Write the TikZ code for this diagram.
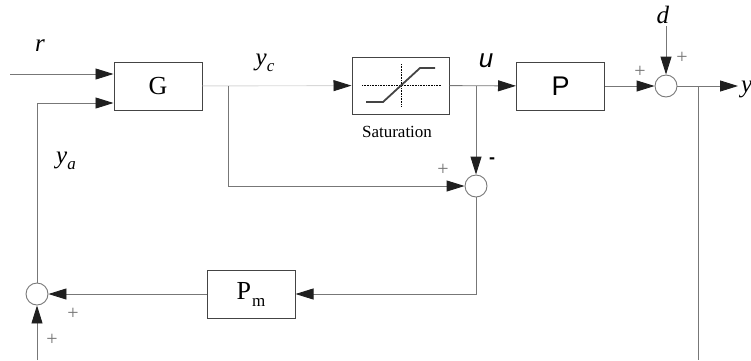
\documentclass[tikz,border=0pt]{standalone}
\usepackage{fontspec}
\setmainfont{Liberation Serif}
\setsansfont{Liberation Sans}
\usetikzlibrary{arrows.meta}
\definecolor{linegray}{HTML}{777777}
\definecolor{lightline}{HTML}{D8D8D8}
\definecolor{boxgray}{HTML}{444444}

\begin{document}
\begin{tikzpicture}[x=1pt,y=-1pt,
  blk/.style={draw=boxgray,line width=1pt,minimum width=88pt,minimum height=48pt,inner sep=0pt,font=\fontsize{26}{30}\selectfont},
  sum/.style={draw=linegray,circle,minimum size=22pt,inner sep=0pt,line width=0.9pt},
  wire/.style={draw=linegray,line width=0.9pt},
  sig/.style={wire,-{Triangle[length=18pt,width=11pt,color=black!88]}},
  lbl/.style={inner sep=0pt,font=\fontsize{25}{28}\selectfont},
  sgn/.style={inner sep=0pt,text=black!55,font=\fontsize{20}{22}\selectfont}]
\useasboundingbox (0,0) rectangle (751,360);
\node[blk] (G) at (158,86) {G};
\node[blk,minimum width=97pt,minimum height=57pt] (sat) at (400.5,85.5) {};
\node[blk,font=\sffamily\fontsize{27}{30}\selectfont] (P) at (560.5,86) {P};
\node[blk] (Pm) at (251,294) {P\hspace{1pt}\raisebox{-7pt}{\fontsize{17}{19}\selectfont m}};
\node[sum] (sd) at (666,86) {};
\node[sum] (su) at (476,186) {};
\node[sum] (sa) at (37,294) {};
\coordinate (rin) at (10,74);
\coordinate (ya) at (37,103);
\coordinate (yc) at (228,86);
\coordinate (ub) at (476,86);
\coordinate (yb) at (698,86);
\coordinate (yout) at (738,86);
\coordinate (din) at (666,26);
\coordinate (ain) at (37,360);
\draw[sig] (rin) -- (rin -| G.west);
\draw[sig] (sa) -- (ya) -- (ya -| G.west);
\draw[sig,draw=lightline] (G) -- (sat);
\draw[sig] (yc) |- (su);
\draw[sig] (sat) -- (P);
\draw[sig] (ub) -- (su);
\draw[sig] (P) -- (sd);
\draw[sig] (din) -- (sd);
\draw[sig] (sd) -- (yout);
\draw[wire] (yb) -- (yb |- ain);
\draw[sig] (su) |- (Pm);
\draw[sig] (Pm) -- (sa);
\draw[sig] (ain) -- (sa);
\draw[densely dotted,line width=0.6pt] (362,85) -- (441,85);
\draw[densely dotted,line width=0.6pt] (401,64) -- (401,107);
\draw[line width=1.8pt,boxgray] (366,102) -- (383,102) -- (420,68) -- (435,68);
\node[lbl] (rl) at (40,46) {\textit{r}};
\node[lbl] (ycl) at (265,63) {\textit{y}\raisebox{-6pt}{\fontsize{17}{19}\selectfont\textit{c}}};
\node[lbl] (yal) at (66,161) {\textit{y}\raisebox{-6pt}{\fontsize{17}{19}\selectfont\textit{a}}};
\node[lbl,font=\sffamily\itshape\fontsize{26}{28}\selectfont] (ul) at (486,61) {u};
\node[lbl] (dl) at (663,15) {\textit{d}};
\node[lbl,anchor=west] (yl) at (741,89) {\textit{y}};
\node[inner sep=0pt,font=\fontsize{17}{19}\selectfont] (satl) at (397,132) {Saturation};
\node[sgn] (pu) at (443,170) {+};
\node[lbl,font=\sffamily\bfseries\fontsize{18}{20}\selectfont] (mu) at (492,161) {-};
\node[sgn] (pp) at (640,72) {+};
\node[sgn] (pd) at (682,58) {+};
\node[sgn] (pm) at (73,314) {+};
\node[sgn] (pa) at (52,340) {+};
\end{tikzpicture}
\end{document}
